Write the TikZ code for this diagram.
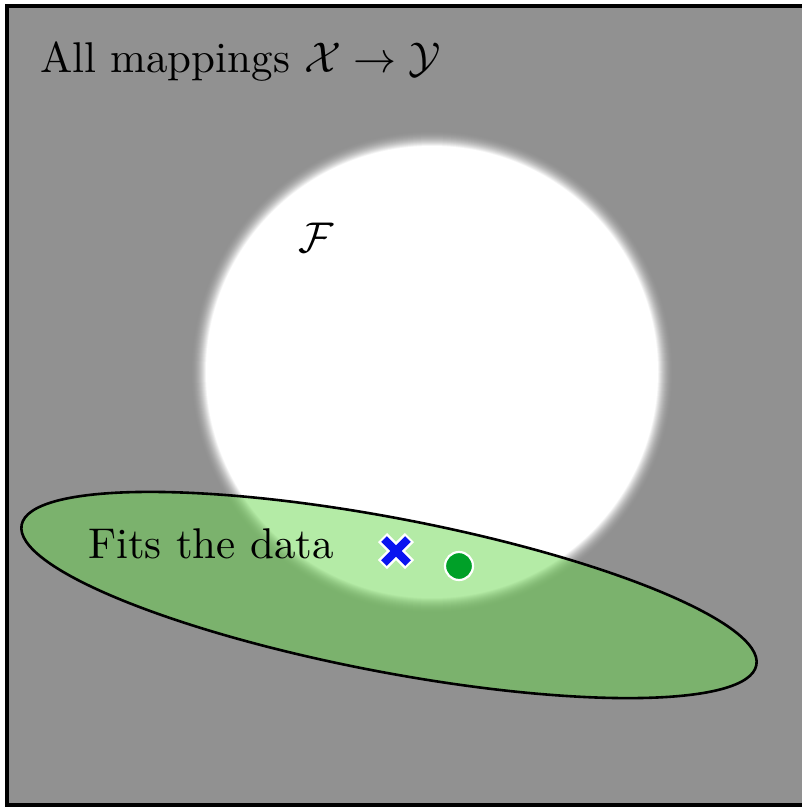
\documentclass[tikz,border=0pt]{standalone}
\usepackage{amsmath}
\usepackage{graphicx}
\usetikzlibrary{calc}
\definecolor{bggray}{RGB}{145,145,145}
\definecolor{fitgreen}{RGB}{100,215,70}
\definecolor{crossblue}{RGB}{10,20,240}
\definecolor{dotgreen}{RGB}{0,160,40}
\newcommand{\bigtxt}[1]{\scalebox{4.3}{#1}}
\tikzset{
  bigtext/.style={inner sep=0pt, text=black},
  fitregion/.style={draw=black, line width=2.6pt, fill=fitgreen, fill opacity=0.48},
}
\begin{document}
\begin{tikzpicture}[x=1pt,y=-1pt]
\useasboundingbox (0,0) rectangle (802,808);
\clip (0,0) rectangle (802,808);
% background frame
\draw[line width=4.5pt, fill=bggray] (7,6) rectangle (815,805);
% the set F with glowing edge
\coordinate (C) at (432,372);
\foreach \k in {32,31,...,1} {
  \pgfmathsetmacro\p{100*(1-(1-\k/32)^2)}
  \fill[bggray!\p!white] (C) circle ({226pt+\k*0.5pt});
}
\fill[white] (C) circle (226pt);
% fits the data region
\coordinate (E) at (389,595);
\draw[fitregion] (E) ellipse [x radius=374pt, y radius=77pt, rotate=-10.8];
% labels
\node[bigtext, anchor=base west] (all) at (40,72) {\bigtxt{All mappings $\mathcal{X}\to\mathcal{Y}$}};
\node[bigtext, anchor=base west] (F) at (298,252) {\bigtxt{$\mathcal{F}$}};
\node[bigtext, anchor=base west] (fits) at (88,558) {\bigtxt{Fits the data}};
% cross and dot
\coordinate (X) at (396,551);
\draw[white, line width=13pt] ($(X)+(-13.5,-13.5)$) -- ($(X)+(13.5,13.5)$) ($(X)+(-13.5,13.5)$) -- ($(X)+(13.5,-13.5)$);
\draw[crossblue, line width=8pt] ($(X)+(-12,-12)$) -- ($(X)+(12,12)$) ($(X)+(-12,12)$) -- ($(X)+(12,-12)$);
\node[circle, fill=dotgreen, draw=white, line width=2.2pt, minimum size=28pt, inner sep=0pt] (dot) at (459,566) {};
\end{tikzpicture}
\end{document}
